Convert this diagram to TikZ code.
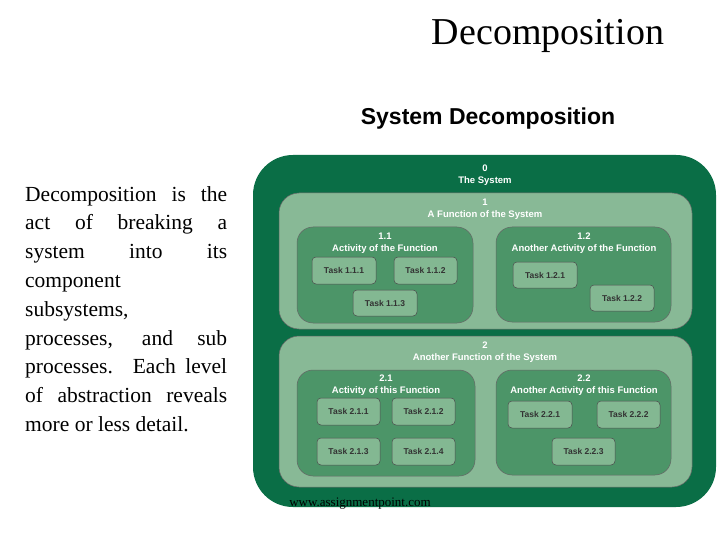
\documentclass[tikz,border=0pt]{standalone}
\usepackage{fontspec}
\setmainfont{Liberation Serif}
\newfontfamily\sans{Liberation Sans}
\begin{document}
\begin{tikzpicture}[x=1pt,y=-1pt,
  lt/.style={fill=lightg, draw=black!60, line width=0.5pt},
  md/.style={fill=midg, draw=black!60, line width=0.5pt},
  tk/.style={fill=taskg, draw=black!70, line width=0.5pt, rounded corners=4pt},
  tt/.style={font=\sans\bfseries\fontsize{8.5}{9}\selectfont, text=black!80},
  wt/.style={font=\sans\bfseries\fontsize{9.5}{11.5}\selectfont, text=white, align=center}]
\definecolor{darkg}{HTML}{0A6E46}
\definecolor{lightg}{HTML}{88B996}
\definecolor{midg}{HTML}{4C9568}
\definecolor{taskg}{HTML}{83B892}
\newcommand\sline[1]{\makebox[202pt][s]{#1}}
\useasboundingbox (0,0) rectangle (720,540);
\fill[white] (0,0) rectangle (720,540);
\node[font=\fontsize{38}{40}\selectfont] (title) at (548,36) {Decomposition};
\node[font=\sans\bfseries\fontsize{23}{26}\selectfont] (sub) at (488,119) {System Decomposition};
\node[anchor=north west, align=left, inner sep=0pt,
  font=\fontsize{21.5}{28.8}\selectfont] (para) at (25,186)
  {\sline{Decomposition is the}\\ \sline{act of breaking a}\\ \sline{system into its}\\ component\\ subsystems,\\
   \sline{processes, and sub}\\ \sline{processes. Each level}\\ \sline{of abstraction reveals}\\ more or less detail.};
\fill[darkg, rounded corners=40pt] (253,155) rectangle (716,507);
\path[lt, rounded corners=20pt] (279,193) rectangle (692,329);
\path[lt, rounded corners=20pt] (279,336) rectangle (692,487);
\path[md, rounded corners=16pt] (297,227) rectangle (473,323);
\path[md, rounded corners=16pt] (496,227) rectangle (671,322);
\path[md, rounded corners=16pt] (297,370) rectangle (475,476);
\path[md, rounded corners=16pt] (496,370) rectangle (671,475);
\node[wt] (l0) at (485,175) {0\\The System};
\node[wt] (l1) at (485,209) {1\\A Function of the System};
\node[wt] (l11) at (385,243) {1.1\\Activity of the Function};
\node[wt] (l12) at (584,243) {1.2\\Another Activity of the Function};
\node[wt] (l2) at (485,352) {2\\Another Function of the System};
\node[wt] (l21) at (386,385) {2.1\\Activity of this Function};
\node[wt] (l22) at (584,385) {2.2\\Another Activity of this Function};
\foreach \n/\a/\b/\c/\d in {1.1.1/312/257/376/284, 1.1.2/394/257/457/284, 1.1.3/353/290/417/316,
  1.2.1/513/262/577/288, 1.2.2/590/285/654/311, 2.1.1/317/398/380/425, 2.1.2/392/398/455/425,
  2.1.3/317/438/380/465, 2.1.4/392/438/455/465, 2.2.1/508/401/572/428, 2.2.2/597/401/660/428,
  2.2.3/552/438/615/465}{
  \path[tk] (\a,\b) rectangle (\c,\d);
  \node[tt] (t\n) at ({(\a+\c)/2},{(\b+\d)/2}) {Task \n};
}
\node[font=\fontsize{13}{14}\selectfont] (www) at (360,504) {www.assignmentpoint.com};
\end{tikzpicture}
\end{document}
